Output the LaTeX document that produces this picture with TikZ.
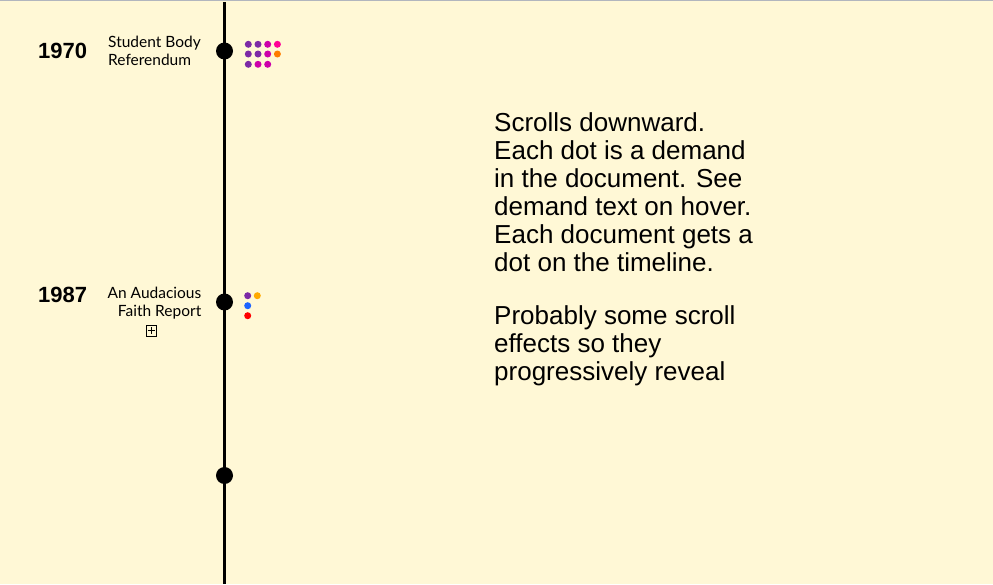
\documentclass[tikz,border=0pt]{standalone}
\usepackage{fontspec}
\setmainfont{Liberation Sans}
\newfontfamily\labelfont{Lato}
\usetikzlibrary{positioning}
\definecolor{paper}{RGB}{255,248,214}
\definecolor{rim}{RGB}{178,182,190}
\definecolor{dpurple}{RGB}{124,42,166}
\definecolor{dmagenta}{RGB}{204,0,170}
\definecolor{dpink}{RGB}{255,0,150}
\definecolor{dorange}{RGB}{255,125,0}
\definecolor{dyellow}{RGB}{255,170,0}
\definecolor{dblue}{RGB}{30,100,255}
\definecolor{dred}{RGB}{255,0,0}

\begin{document}
\begin{tikzpicture}[x=1pt,y=-1pt,
	event/.style={circle,fill=black,inner sep=0pt,minimum size=17pt},
	demand/.style={circle,inner sep=0pt,minimum size=7pt},
	year/.style={font=\fontsize{22}{24}\selectfont\bfseries,inner sep=0pt,anchor=base west},
	doc/.style={font=\labelfont\fontsize{15.5}{16.4}\selectfont,inner sep=0pt}]
	\useasboundingbox (0,0) rectangle (993,584);
	\fill [paper] (0,0) rectangle (993,584);
	\draw [rim] (0,0.5) -- (993,0.5);
	% timeline
	\coordinate (top) at (224.5,2);
	\coordinate (bottom) at (224.5,584);
	\draw [line width=3pt] (top) -- (bottom);
	\node [event] (e1970) at (224.5,51) {};
	\node [event] (e1987) at (224.5,302) {};
	\node [event] (e3) at (224.5,475.5) {};
	% 1970
	\node [year] (y1970) at (38,58.3) {1970};
	\node [doc,anchor=base west,align=left] (d1970) at (108,65.7) {Student Body\\[1.5pt]Referendum};
	\foreach \c [count=\i from 0] in {dpurple,dpurple,dmagenta,dpink}
		\node [demand,fill=\c] (a\i) at (248.3+9.7*\i,44.3) {};
	\foreach \c [count=\i from 0] in {dpurple,dpurple,dmagenta,dorange}
		\node [demand,fill=\c] (b\i) at (248.3+9.7*\i,54) {};
	\foreach \c [count=\i from 0] in {dpurple,dmagenta,dmagenta}
		\node [demand,fill=\c] (c\i) at (248.3+9.7*\i,64.3) {};
	% 1987
	\node [year] (y1987) at (38,302.3) {1987};
	\node [doc,anchor=base east,align=right] (d1987) at (201.5,316.7) {An Audacious\\[1.5pt]Faith Report};
	\node [draw,line width=0.8pt,inner sep=0pt,minimum size=10.5pt] (more) at (151.2,330.7) {};
	\draw [line width=0.8pt] ([xshift=2pt]more.west) -- ([xshift=-2pt]more.east);
	\draw [line width=0.8pt] ([yshift=-2pt]more.north) -- ([yshift=2pt]more.south);
	\node [demand,fill=dpurple] (f1) at (247.7,295.7) {};
	\node [demand,fill=dyellow] (f2) at (257.3,295.7) {};
	\node [demand,fill=dblue] (f3) at (247.7,305.7) {};
	\node [demand,fill=dred] (f4) at (247.7,315.7) {};
	% notes
	\node [font=\fontsize{26}{28}\selectfont,inner sep=0pt,anchor=base west,align=left] (note) at (494,380)
		{Scrolls downward.\\Each dot is a demand\\in the document. See\\demand text on hover.\\Each document gets a\\dot on the timeline.\\[24.2pt]Probably some scroll\\effects so they\\progressively reveal};
\end{tikzpicture}
\end{document}
